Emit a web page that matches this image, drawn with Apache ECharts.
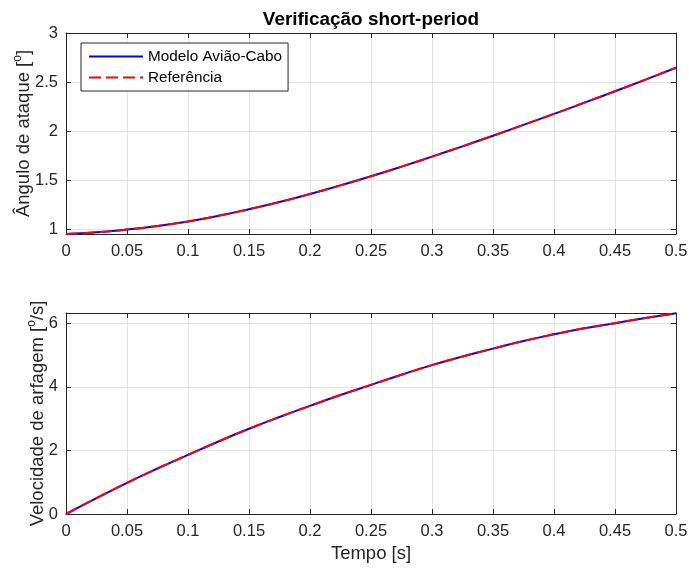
<!DOCTYPE html>
<html>
<head>
<meta charset="utf-8">
<script src="https://cdn.jsdelivr.net/npm/echarts@6/dist/echarts.min.js"></script>
<style>html,body{margin:0;padding:0;background:#fff}#c{width:689px;height:572px}</style>
</head>
<body>
<div id="c"></div>
<script>
const timeS = [0,0.025,0.05,0.075,0.1,0.125,0.15,0.175,0.2,0.225,0.25,0.275,0.3,0.325,0.35,0.375,0.4,0.425,0.45,0.475,0.5];
const alphaDeg = [0.955,0.972,1.0,1.037,1.083,1.14,1.207,1.28,1.362,1.45,1.542,1.64,1.742,1.847,1.955,2.065,2.177,2.291,2.407,2.526,2.647];
const qDegS = [0,0.5,0.98,1.43,1.86,2.28,2.68,3.05,3.40,3.74,4.06,4.38,4.68,4.95,5.2,5.44,5.65,5.84,6.0,6.16,6.31];
const alphaTicks = [1,1.5,2,2.5,3];
const qTicks = [0,2,4,6];
const seriesNames = ['Modelo Avião-Cabo','Referência'];

const FONT = 'Liberation Sans';
const AX = '#262626';
const GRIDC = '#e3e3e3';
const pairs = arr => timeS.map((t,i)=>[t,arr[i]]);
const fmtX = v => String(+v.toFixed(2));

function xAxisMain(gi, showName){
  return {type:'value',gridIndex:gi,min:0,max:0.5,interval:0.05,
    axisLine:{show:true,onZero:false,lineStyle:{color:AX,width:1}},
    axisTick:{show:true,inside:true,length:5,lineStyle:{color:AX}},
    axisLabel:{color:AX,fontFamily:FONT,fontSize:16.5,margin:9,formatter:fmtX},
    splitLine:{show:true,lineStyle:{color:GRIDC,width:1}},
    name: showName?'Tempo [s]':'', nameLocation:'middle', nameGap:30, nameMoveOverlap:false,
    nameTextStyle:{color:AX,fontFamily:FONT,fontSize:18.5}};
}
function xAxisTop(gi){
  return {type:'value',gridIndex:gi,position:'top',min:0,max:0.5,interval:0.05,
    axisLine:{show:true,onZero:false,lineStyle:{color:AX,width:1}},
    axisTick:{show:true,inside:true,length:5,lineStyle:{color:AX}},
    axisLabel:{show:false},splitLine:{show:false}};
}
function yAxis(gi, min, max, ticks, name, gap, right){
  return {type:'value',gridIndex:gi,position:right?'right':'left',min:min,max:max,
    axisLine:{show:true,onZero:false,lineStyle:{color:AX,width:1}},
    axisTick:{show:true,inside:true,length:5,customValues:ticks,lineStyle:{color:AX}},
    axisLabel:{show:!right,customValues:ticks,color:AX,fontFamily:FONT,fontSize:16.5,margin:8},
    splitLine:{show:!right,lineStyle:{color:GRIDC,width:1}},
    name: right?'':name, nameLocation:'middle', nameGap:gap, nameRotate:90, nameMoveOverlap:false,
    nameTextStyle:{color:AX,fontFamily:FONT,fontSize:18.5,
      rich:{a:{fontFamily:FONT,fontSize:18.5,color:AX},s:{fontFamily:FONT,fontSize:12,color:AX,padding:[0,0,11,0]}}}};
}

const option = {
  backgroundColor:'#fff',
  animation:false,
  title:{text:'Verificação short-period',left:366,textAlign:'center',top:5,
    textStyle:{fontFamily:FONT,fontSize:18.9,fontWeight:'bold',color:'#000'}},
  legend:{data:seriesNames,orient:'vertical',left:81,top:43,
    itemWidth:54,itemHeight:14,itemGap:6,padding:[6,6,6,7],
    itemStyle:{opacity:0},
    backgroundColor:'#fff',borderColor:AX,borderWidth:1,borderRadius:0,
    textStyle:{fontFamily:FONT,fontSize:15.3,color:'#000'}},
  grid:[{left:66,right:13,top:33,height:201,outerBoundsMode:'none',containLabel:false},
        {left:66,right:13,top:313,height:201,outerBoundsMode:'none',containLabel:false}],
  xAxis:[xAxisMain(0,false),xAxisTop(0),xAxisMain(1,true),xAxisTop(1)],
  yAxis:[
    yAxis(0,0.955,3,alphaTicks,'{a|Ângulo de ataque [}{s|o}{a|]}',31,false),
    yAxis(0,0.955,3,alphaTicks,'',0,true),
    yAxis(1,0,6.32,qTicks,'{a|Velocidade de arfagem [}{s|o}{a|/s]}',17,false),
    yAxis(1,0,6.32,qTicks,'',0,true)
  ],
  series:[
    {name:seriesNames[0],type:'line',xAxisIndex:0,yAxisIndex:0,data:pairs(alphaDeg),smooth:true,symbol:'none',
      lineStyle:{color:'#0000ff',width:2},itemStyle:{color:'#0000ff'}},
    {name:seriesNames[1],type:'line',xAxisIndex:0,yAxisIndex:0,data:pairs(alphaDeg),smooth:true,symbol:'none',
      lineStyle:{color:'#ff0000',width:2,type:[12,5]},itemStyle:{color:'#ff0000'}},
    {name:seriesNames[0],type:'line',xAxisIndex:2,yAxisIndex:2,data:pairs(qDegS),smooth:true,symbol:'none',
      lineStyle:{color:'#0000ff',width:2},itemStyle:{color:'#0000ff'}},
    {name:seriesNames[1],type:'line',xAxisIndex:2,yAxisIndex:2,data:pairs(qDegS),smooth:true,symbol:'none',
      lineStyle:{color:'#ff0000',width:2,type:[12,5]},itemStyle:{color:'#ff0000'}}
  ]
};
const chart = echarts.init(document.getElementById('c'),null,{renderer:'canvas'});
chart.setOption(option);
</script>
</body>
</html>
